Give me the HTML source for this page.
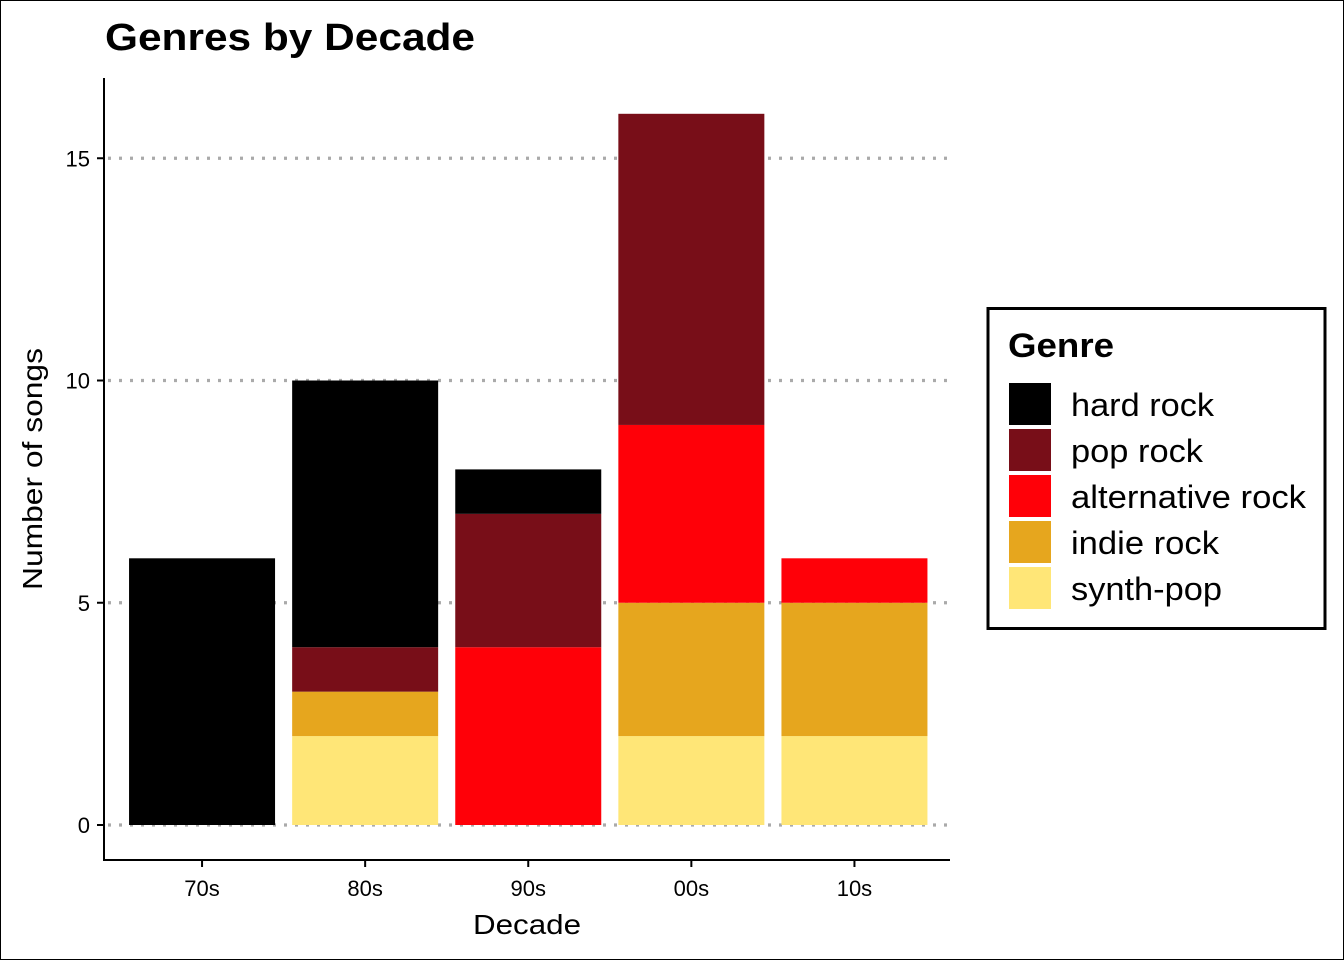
<!DOCTYPE html>
<html><head><meta charset="utf-8">
<style>
html,body{margin:0;padding:0;background:#fff;}
svg{display:block;font-family:"Liberation Sans",sans-serif;}
</style></head>
<body>
<svg id="chart" width="1344" height="960" viewBox="0 0 1344 960">
<rect x="0.5" y="0.5" width="1343" height="959" fill="#fff" stroke="#000" stroke-width="1"/>
<text x="105" y="50" font-size="38" font-weight="bold" textLength="370" lengthAdjust="spacingAndGlyphs">Genres by Decade</text>
<g id="grid"></g>
<g id="bars"></g>
<line x1="104" y1="78" x2="104" y2="860" stroke="#000" stroke-width="2"/>
<line x1="103" y1="860" x2="950" y2="860" stroke="#000" stroke-width="2"/>
<g id="yticks"></g>
<g id="xticks"></g>
<text x="527" y="934" font-size="28" text-anchor="middle" textLength="108" lengthAdjust="spacingAndGlyphs">Decade</text>
<text transform="translate(42,469) rotate(-90)" font-size="28" text-anchor="middle" textLength="242" lengthAdjust="spacingAndGlyphs">Number of songs</text>
<g id="legend">
<rect x="988" y="308.5" width="337" height="320" fill="#fff" stroke="#000" stroke-width="3"/>
<text x="1008" y="357" font-size="34" font-weight="bold" textLength="106" lengthAdjust="spacingAndGlyphs">Genre</text>
</g>
</svg>
<script>
const categories = ["70s","80s","90s","00s","10s"];
const genres = ["synth-pop","indie rock","alternative rock","pop rock","hard rock"];
const synthPop = [0,2,0,2,2];
const indieRock = [0,1,0,3,3];
const altRock = [0,0,4,4,1];
const popRock = [0,1,3,7,0];
const hardRock = [6,6,1,0,0];
const yTicks = [0,5,10,15];
const legendOrder = ["hard rock","pop rock","alternative rock","indie rock","synth-pop"];
const legendWidths = {"hard rock":143,"pop rock":132,"alternative rock":235,"indie rock":148,"synth-pop":151};
const colors = {"hard rock":"#000000","pop rock":"#780E18","alternative rock":"#FF0008","indie rock":"#E6A61E","synth-pop":"#FFE677"};
const series = [synthPop, indieRock, altRock, popRock, hardRock];

const NS = "http://www.w3.org/2000/svg";
const y0 = 825, pxPerUnit = 44.45;
const yScale = v => y0 - v * pxPerUnit;
const xStart = 120.5, step = 163.1, barW = 146;
const xCenter = i => xStart + step * i + step / 2;

function mk(tag, attrs, parent){
  const e = document.createElementNS(NS, tag);
  for (const k in attrs) e.setAttribute(k, attrs[k]);
  parent.appendChild(e);
  return e;
}
const grid = document.getElementById('grid');
const yt = document.getElementById('yticks');
yTicks.forEach(t => {
  const y = yScale(t);
  const g = mk('line', {x1:108, x2:950, y1:y, y2:y, stroke:'#aaaaaa', 'stroke-width':3.2, 'stroke-dasharray':'3 8'}, grid);
  
  
  const tk = mk('line', {x1:97, x2:104, y1:y, y2:y, stroke:'#000', 'stroke-width':2}, yt);
  
  
  const lb = mk('text', {x:90, y:y + 8, 'font-size':22, 'text-anchor':'end'}, yt);
  lb.textContent = t;
  
  
});
const bars = document.getElementById('bars');
const xt = document.getElementById('xticks');
categories.forEach((c, i) => {
  let cum = 0;
  const cx = xCenter(i);
  series.forEach((s, j) => {
    const v = s[i];
    if (v > 0) {
      const top = yScale(cum + v), bot = yScale(cum);
      const r = mk('rect', {x:cx - barW/2, y:top, width:barW, height:bot - top, fill:colors[genres[j]]}, bars);
      
      
    }
    cum += v;
  });
  const tk = mk('line', {x1:cx, x2:cx, y1:860, y2:867, stroke:'#000', 'stroke-width':2}, xt);
  
  
  const lb = mk('text', {x:cx, y:896, 'font-size':22, 'text-anchor':'middle'}, xt);
  lb.textContent = c;
  
  
});
const legend = document.getElementById('legend');
legendOrder.forEach((g, i) => {
  const y = 383 + i * 46;
  const k = mk('rect', {x:1009, y:y, width:42, height:42, fill:colors[g]}, legend);
  
  
  const t = mk('text', {x:1071, y:y + 33, 'font-size':32, textLength:legendWidths[g], lengthAdjust:'spacingAndGlyphs'}, legend);
  t.textContent = g;
  
  
});
</script>
</body></html>
